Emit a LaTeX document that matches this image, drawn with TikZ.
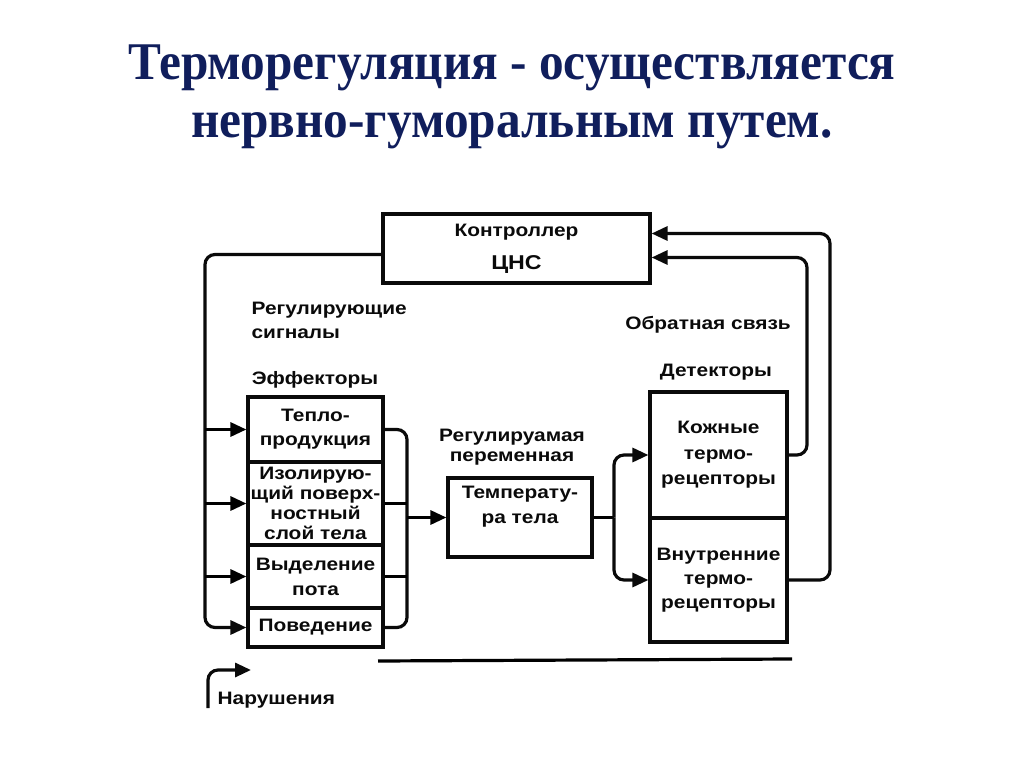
\documentclass[tikz,border=0pt]{standalone}
\usepackage{fontspec}
\usepackage{xcolor}
\usepackage{tikz}
\usetikzlibrary{arrows.meta,positioning,calc}
\newfontfamily\titlefont[FakeStretch=0.93]{Liberation Serif}
\newfontfamily\diagfont[FakeStretch=1.16]{Liberation Sans}
\definecolor{trNavy}{RGB}{ 16, 30, 92}
\definecolor{trInk} {RGB}{ 10, 10, 10}

\begin{document}
\begin{tikzpicture}[
  x=1pt,y=-1pt,
  every node/.style={font=\diagfont\bfseries\fontsize{18}{20}\selectfont,text=trInk},
  >={Triangle[length=16pt,width=14pt]},
  line width=3.2pt,
  box/.style={draw=trInk,line width=3.2pt,inner sep=0pt,align=center},
  eff/.style={box,minimum width=135pt},
  det/.style={box,minimum width=137pt},
  lbl/.style={align=left,inner sep=0pt},
  link/.style={draw=trInk,line width=3.2pt,rounded corners=10pt},
  title/.style={font=\titlefont\bfseries\fontsize{53}{58}\selectfont,text=trNavy,anchor=base}
]
\useasboundingbox (0,0) rectangle (1024,767);

% title
\node[title] (T1) at (512, 80) {Терморегуляция - осуществляется};
\node[title] (T2) at (512,138) {нервно-гуморальным путем.};

% controller
\node[box,minimum width=267pt,minimum height=69pt] (cns) at (516.5,248.5)
  {Контроллер\\[13pt]{\fontsize{20}{22}\selectfont ЦНС}};

% effectors
\node[eff,minimum height=65pt] (e1) at (315.5,429.5) {Тепло-\\[4pt]продукция};
\node[eff,minimum height=83pt] (e2) at (315.5,503.5) {Изолирую-\\щий поверх-\\ностный\\слой тела};
\node[eff,minimum height=63pt] (e3) at (315.5,576.5) {Выделение\\[5pt]пота};
\node[eff,minimum height=39pt] (e4) at (315.5,627.5) {Поведение};

% regulated variable
\node[box,minimum width=144pt,minimum height=79pt] (temp) at (520,517.5) {Температу-\\[5pt]ра тела\\[6pt]};

% detectors
\node[det,minimum height=126pt] (d1) at (718.5,455) {Кожные\\[6pt]термо-\\[5pt]рецепторы};
\node[det,minimum height=124pt] (d2) at (718.5,580) {Внутренние\\[4pt]термо-\\[4pt]рецепторы};

% labels
\node[lbl,anchor=west] (sig)  at (250,320) {Регулирующие\\[4pt]сигналы};
\node[lbl]             (effL) at (315,380) {Эффекторы};
\node[lbl,align=center](varL) at (512,447) {Регулируамая\\переменная};
\node[lbl]             (fbL)  at (708,325) {Обратная связь};
\node[lbl]             (detL) at (716,372) {Детекторы};
\node[lbl,anchor=west] (dstL) at (216,700) {Нарушения};

% helper points
\coordinate (lbus) at (205,0);
\coordinate (rbus) at (407,0);
\coordinate (dbus) at (614,0);
\coordinate (fb1)  at (807,0);
\coordinate (fb2)  at (830,0);
\coordinate (cnsA) at ([yshift=15pt]cns.east);
\coordinate (cnsB) at ([yshift=-9pt]cns.east);
\coordinate (dst0) at (208,708);
\coordinate (dst1) at (251,670);

% regulating signals
\draw[link,->] ([yshift=-6pt]cns.west) -| (lbus |- e4.west) -- (e4.west);
\draw[->] (lbus |- e1.west) -- (e1.west);
\draw[->] (lbus |- e2.west) -- (e2.west);
\draw[->] (lbus |- e3.west) -- (e3.west);

% effectors -> body temperature
\draw[link] (e1.east) -| (rbus |- e4.east) -- (e4.east);
\draw (e2.east) -- (rbus |- e2.east);
\draw (e3.east) -- (rbus |- e3.east);
\draw[->] (rbus |- temp.west) -- (temp.west);

% body temperature -> detectors
\draw (temp.east) -- (dbus |- temp.east);
\draw[link,->] (dbus |- temp.east) |- (d1.west);
\draw[link,->] (dbus |- temp.east) |- (d2.west);

% feedback
\draw[link,->] (d1.east) -| (fb1 |- cnsB) -- (cnsB);
\draw[link,->] (d2.east) -| (fb2 |- cnsA) -- (cnsA);

% disturbance
\draw[link,->] (dst0) |- (dst1);

\draw (378,661) -- (792,659);
\end{tikzpicture}
\end{document}
